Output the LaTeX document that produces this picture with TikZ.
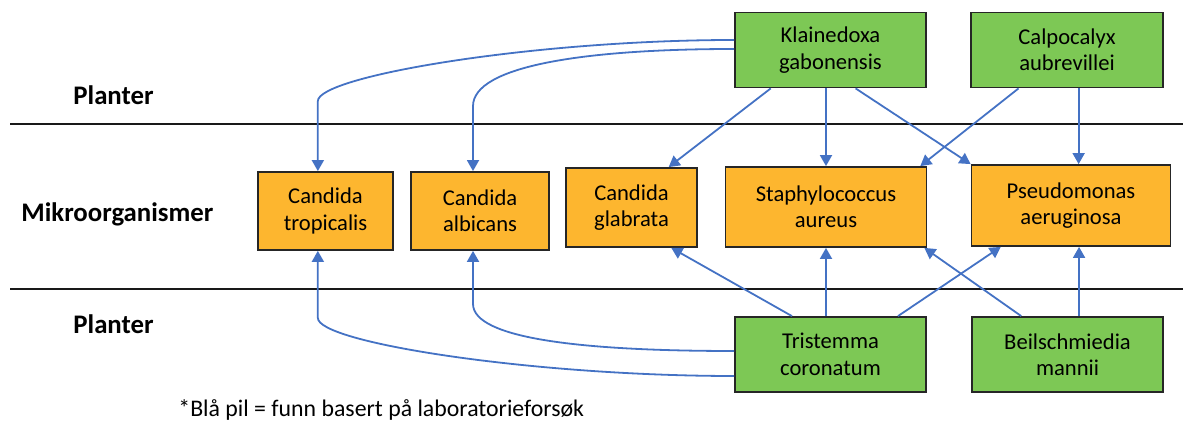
\documentclass[tikz,border=0pt]{standalone}
\usepackage{fontspec}
\setmainfont{Carlito}
\usetikzlibrary{arrows.meta,calc}
\definecolor{plantgreen}{HTML}{7DC855}
\definecolor{microorange}{HTML}{FDB62F}
\definecolor{arrowblue}{HTML}{4472C4}

\begin{document}
\begin{tikzpicture}[
  x=0.5pt, y=-0.5pt,
  font=\fontsize{11.3}{13.2}\selectfont,
  box/.style={rectangle, draw=black!85, line width=0.9pt, align=center,
              inner sep=0pt, minimum height=39pt},
  plant/.style={box, fill=plantgreen, minimum width=95.5pt, minimum height=37.5pt},
  microbe/.style={box, fill=microorange},
  zone/.style={font=\fontsize{13.4}{16}\selectfont\bfseries, anchor=base west, inner sep=0pt},
  arr/.style={-{Triangle[length=5.5pt,width=6pt]}, line width=0.9pt, draw=arrowblue},
  divider/.style={line width=1pt, draw=black!90},
]
\useasboundingbox (0,0) rectangle (1183,421);

%% ---- zones ----
\node[zone] (plantop) at (73,105) {Planter};
\node[zone] (mikro)   at (21,222) {Mikroorganismer};
\node[zone] (plantbot) at (73,334) {Planter};
\draw[divider] (10,124.5) -- (1183,124.5);
\draw[divider] (10,289.5) -- (1183,289.5);

%% ---- plants (top) ----
\node[plant] (klain) at (830.5,50) {Klainedoxa\\gabonensis};
\node[plant, minimum width=96pt] (calpo) at (1067,50) {Calpocalyx\\aubrevillei};

%% ---- microorganisms ----
\node[microbe, minimum width=67.5pt] (trop) at (325.5,211) {Candida\\tropicalis};
\node[microbe, minimum width=69pt]   (albi) at (480,211) {Candida\\albicans};
\node[microbe, minimum width=65.5pt, minimum height=39.5pt] (glab) at (631.5,207.5)
  {Candida\\glabrata};
\node[microbe, minimum width=100.5pt, minimum height=40pt] (staph) at (826,207)
  {Staphylococcus\\aureus};
\node[microbe, minimum width=99.5pt, minimum height=40.5pt] (pseudo) at (1071,205.5)
  {Pseudomonas\\aeruginosa};

%% ---- plants (bottom) ----
\node[plant] (trist) at (830.5,354.5) {Tristemma\\coronatum};
\node[plant] (beil)  at (1067.5,354.5) {Beilschmiedia\\mannii};

%% ---- footnote ----
\node[anchor=base west, inner sep=0pt, font=\fontsize{11.9}{14}\selectfont] (note) at (178,417)
  {*Blå pil = funn basert på laboratorieforsøk};

%% ---- ports for the curved arrows ----
\coordinate (tropin)  at ($(trop.north west)!0.444!(trop.north east)$);
\coordinate (tropout) at ($(trop.south west)!0.444!(trop.south east)$);
\coordinate (albin)   at ($(albi.north west)!0.45!(albi.north east)$);
\coordinate (albout)  at ($(albi.south west)!0.45!(albi.south east)$);

%% ---- arrows from the top plants ----
\draw[arr] ($(klain.west)+(0,-10)$) .. controls +(-200,0) and +(0,-25) ..
  ($(tropin)+(0,-70)$) -- (tropin);
\draw[arr] ($(klain.west)+(0,-1)$) .. controls +(-150,0) and +(0,-40) ..
  ($(albin)+(0,-65)$) -- (albin);
\draw[arr] ($(klain.south west)!0.19!(klain.south east)$) --
  ($(glab.north west)!0.78!(glab.north east)$);
\draw[arr] (staph.north |- klain.south) -- (staph.north);
\draw[arr] ($(klain.south west)!0.63!(klain.south east)$) -- (pseudo.north west);
\draw[arr] ($(calpo.south west)!0.25!(calpo.south east)$) --
  ($(staph.north west)!0.965!(staph.north east)$);
\draw[arr] ($(calpo.south west)!0.56!(calpo.south east)$) coordinate (c2) -- (c2 |- pseudo.north);

%% ---- arrows from the bottom plants ----
\draw[arr] ($(trist.west)+(0,21.5)$) .. controls +(-200,0) and +(0,25) ..
  ($(tropout)+(0,67)$) -- (tropout);
\draw[arr] ($(trist.west)+(0,-3.5)$) .. controls +(-150,0) and +(0,35) ..
  ($(albout)+(0,53)$) -- (albout);
\draw[arr] ($(trist.north west)!0.30!(trist.north east)$) --
  ($(glab.south west)!0.80!(glab.south east)$);
\draw[arr] (staph.south |- trist.north) -- (staph.south);
\draw[arr] ($(trist.north west)!0.85!(trist.north east)$) --
  ($(pseudo.south west)!0.15!(pseudo.south east)$);
\draw[arr] ($(beil.north west)!0.26!(beil.north east)$) --
  ($(staph.south west)!0.985!(staph.south east)$);
\draw[arr] ($(beil.north west)!0.56!(beil.north east)$) coordinate (b2) -- (b2 |- pseudo.south);

\end{tikzpicture}
\end{document}
